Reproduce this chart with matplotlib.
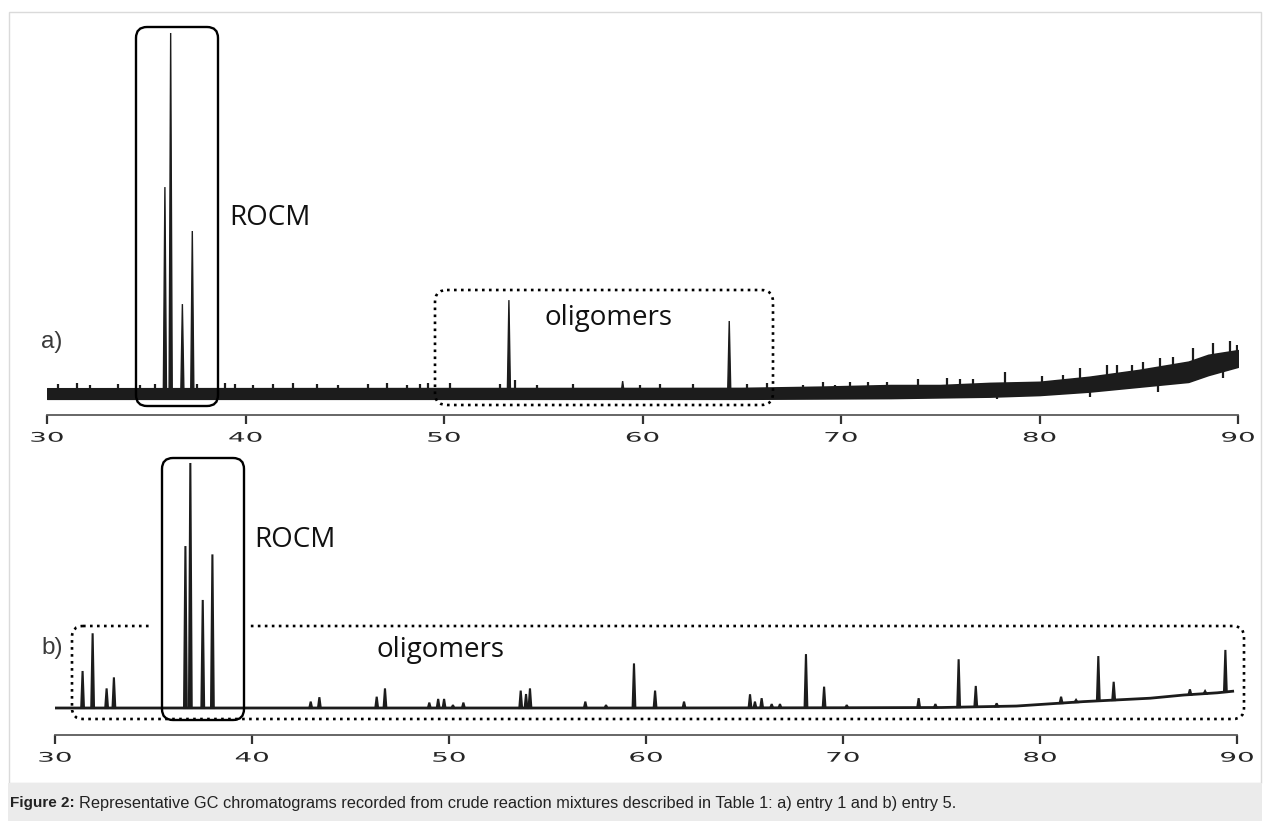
import numpy as np
import matplotlib
matplotlib.use('Agg')
import matplotlib.pyplot as plt
import matplotlib.transforms as mtransforms
import matplotlib.patheffects as pe
from matplotlib.patches import FancyBboxPatch, Rectangle

W, H = 1270, 821

# retention time axis
ticks = [30, 40, 50, 60, 70, 80, 90]

# a) entry 1 -- peaks (min, relative intensity)
a_peak_rt = [35.94, 36.23, 36.82, 37.32, 53.27, 59.00, 64.37]
a_peak_h = [57.2, 100.0, 24.7, 45.0, 25.8, 3.3, 20.0]
# noisy baseline envelope
a_env_rt = [30, 65, 69, 72.5, 75, 77.5, 80, 82.5, 85, 87.5, 88.5, 90]
a_env_lo = [-1.6, -1.6, -1.5, -1.4, -1.2, -1.0, -0.55, 0.4, 1.75, 3.1, 5.0, 7.3]
a_env_hi = [1.3, 1.4, 1.75, 2.2, 2.2, 2.8, 3.1, 4.5, 6.4, 8.7, 10.6, 11.9]
# noise spikes sticking out of the band
a_spike_rt = [30.57, 31.50, 32.17, 33.59, 34.69, 35.44, 37.54, 38.97, 39.47, 40.39,
              41.40, 42.41, 43.59, 44.68, 46.19, 47.11, 48.12, 48.79, 49.21, 50.30,
              52.82, 53.58, 54.67, 56.51, 59.87, 60.88, 62.56, 65.25, 66.26, 68.10,
              69.11, 69.70, 70.45, 71.38, 72.30, 73.89, 75.32, 76.00, 76.67, 78.26,
              80.11, 81.20, 82.04, 83.38, 83.90, 84.64, 85.20, 86.07, 86.74, 87.75,
              88.76, 89.60, 89.93]
a_spike_h = [2.5, 2.8, 2.2, 2.5, 2.2, 2.5, 2.5, 2.8, 2.5, 2.2,
             2.5, 2.8, 2.5, 2.2, 2.5, 2.8, 2.2, 2.5, 2.8, 2.8,
             2.5, 3.6, 2.2, 2.5, 2.2, 2.5, 2.5, 2.5, 2.8, 2.2,
             3.1, 2.2, 3.0, 3.1, 3.0, 3.9, 4.2, 3.9, 3.9, 5.8,
             4.7, 5.0, 6.9, 7.8, 7.8, 7.8, 8.6, 9.7, 10.0, 12.5,
             13.9, 14.4, 13.3]
a_dip_rt = [77.84, 82.54, 85.98, 89.26]
a_dip_h = [-1.7, -1.1, 0.3, 4.2]

# b) entry 5
b_base_rt = [30.0, 60.0, 70.0, 75.0, 78.8, 82.2, 85.6, 87.3, 89.0, 89.85]
b_base_y = [0.0, 0.0, 0.1, 0.2, 0.8, 2.6, 4.0, 5.3, 6.2, 6.9]
b_peak_rt = [31.40, 31.91, 32.62, 32.99, 36.62, 36.87, 37.50, 37.99, 42.98, 43.42,
             46.33, 46.75, 49.00, 49.45, 49.75, 50.20, 50.73, 53.64, 53.91, 54.11,
             56.92, 57.97, 59.39, 60.46, 61.93, 65.28, 65.53, 65.87, 66.38, 66.80,
             68.12, 69.04, 70.19, 73.84, 74.69, 75.87, 76.74, 77.80, 81.07, 81.83,
             82.96, 83.74, 87.61, 88.38, 89.41]
b_peak_h = [15.1, 30.5, 8.0, 12.5, 66.1, 100.0, 44.1, 62.7, 2.6, 4.4,
            4.6, 8.0, 2.2, 3.7, 3.7, 1.2, 2.2, 7.1, 5.7, 8.0,
            2.6, 1.2, 18.2, 7.1, 2.6, 5.6, 2.6, 4.0, 1.6, 1.6,
            22.0, 8.7, 1.2, 4.0, 1.6, 19.9, 9.0, 1.9, 4.6, 3.3,
            21.2, 10.7, 7.6, 6.9, 23.7]

INK = '#1c1c1c'


class Stretch(pe.AbstractPathEffect):
    """widen glyphs horizontally around their centre"""
    def __init__(self, sx=2.0):
        super().__init__()
        self.sx = sx

    def draw_path(self, renderer, gc, tpath, affine, rgbFace=None):
        ext = tpath.get_extents()
        cx = 0.5 * (ext.x0 + ext.x1)
        t = mtransforms.Affine2D().translate(-cx, 0).scale(self.sx, 1).translate(cx, 0) + affine
        renderer.draw_path(gc, tpath, t, rgbFace)


fig = plt.figure(figsize=(W / 100, H / 100), dpi=100)
fig.patch.set_facecolor('white')
# pixel coordinates measured from the top-left corner
pxT = mtransforms.Affine2D().scale(1 / W, -1 / H).translate(0, 1) + fig.transFigure


def make_axes(x0, x1, y_axis, y_top, ylim):
    ax = fig.add_axes([x0 / W, (H - y_axis) / H, (x1 - x0) / W, (y_axis - y_top) / H])
    ax.set_xlim(30, 90)
    ax.set_ylim(*ylim)
    for s in ['top', 'left', 'right']:
        ax.spines[s].set_visible(False)
    ax.spines['bottom'].set_color('#5a5a5a')
    ax.spines['bottom'].set_linewidth(1.3)
    ax.set_yticks([])
    ax.set_xticks(ticks, labels=[str(t) for t in ticks])
    ax.tick_params(axis='x', direction='out', length=6.5, width=1.6, color='#333333',
                   labelsize=9.5, labelcolor='#262626', pad=5.5)
    for lab in ax.get_xticklabels():
        lab.set_path_effects([Stretch(2.1)])
    ax.patch.set_alpha(0)
    return ax


def draw_peaks(ax, rts, hs, base_rt, base_y, w, lw):
    for rt, h in zip(rts, hs):
        b = np.interp(rt, base_rt, base_y)
        ax.fill([rt - w, rt, rt + w], [b, h, b], color=INK, lw=lw, zorder=3)


def rbox(ax, x0, y0, x1, y1, ls='-', lw=1.7, r=11, z=5):
    p = FancyBboxPatch((x0, y0), x1 - x0, y1 - y0,
                       boxstyle=f'round,pad=0,rounding_size={r}',
                       fc='none', ec='black', lw=lw, ls=ls,
                       transform=pxT, clip_on=False, zorder=z)
    ax.add_patch(p)


# ---------- a) ----------
ax_a = make_axes(47, 1238, 415, 20, (-22 / 3.6, 373 / 3.6))
ax_a.fill_between(a_env_rt, a_env_lo, a_env_hi, color=INK, lw=1.2, zorder=3)
mid_a = [(lo + hi) / 2 for lo, hi in zip(a_env_lo, a_env_hi)]
ax_a.vlines(a_spike_rt, np.interp(a_spike_rt, a_env_rt, mid_a), a_spike_h,
            color=INK, lw=1.6, zorder=3)
ax_a.vlines(a_dip_rt, a_dip_h, np.interp(a_dip_rt, a_env_rt, mid_a),
            color=INK, lw=1.6, zorder=3)
draw_peaks(ax_a, a_peak_rt, a_peak_h, a_env_rt, mid_a, 0.08, 1.0)

rbox(ax_a, 136, 27, 218, 406)
rbox(ax_a, 435, 290, 773, 405, ls=':', lw=1.9, r=12)

# ---------- b) ----------
ax_b = make_axes(55, 1237, 735, 440, (-27 / 2.45, 268 / 2.45))
ax_b.plot(b_base_rt, b_base_y, color=INK, lw=2.0, zorder=3, solid_capstyle='butt')
draw_peaks(ax_b, b_peak_rt, b_peak_h, b_base_rt, b_base_y, 0.07, 1.5)

rbox(ax_b, 72, 626, 1244, 719, ls=':', lw=1.9, r=11, z=1)
ax_b.add_patch(Rectangle((150, 621), 100, 10, fc='white', ec='none',
                         transform=pxT, clip_on=False, zorder=2))
rbox(ax_b, 162, 458, 244, 720)

# ---------- labels ----------
lab_font = dict(family='Open Sans', fontsize=20, color='#111111')
fig.text(229 / W, 1 - 225 / H, 'ROCM', va='baseline', ha='left', **lab_font)
fig.text(544 / W, 1 - 325 / H, 'oligomers', va='baseline', ha='left', **lab_font)
fig.text(254 / W, 1 - 547 / H, 'ROCM', va='baseline', ha='left', **lab_font)
fig.text(377 / W, 1 - 657 / H, 'oligomers', va='baseline', ha='left', **lab_font)

tag_font = dict(family='Liberation Sans', fontsize=17.5, color='#3a3a3a')
fig.text(41 / W, 1 - 348 / H, 'a)', va='baseline', ha='left', **tag_font)
fig.text(41 / W, 1 - 654 / H, 'b)', va='baseline', ha='left', **tag_font)

# frame and caption bar
fig.patches.append(Rectangle((9, 12), 1252, 771, fc='none', ec='#dadada', lw=1,
                             transform=pxT, figure=fig))
fig.patches.append(Rectangle((8, 783), 1254, 38, fc='#ebebeb', ec='none',
                             transform=pxT, figure=fig))

cap_y = 1 - 803 / H
t1 = fig.text(10 / W, cap_y, 'Figure 2:', family='Liberation Sans', fontsize=11,
              fontweight='bold', va='center', ha='left', color='#222222')
r = fig.canvas.get_renderer()
bb = t1.get_window_extent(r)
fig.text((bb.x1 + 4) / W, cap_y,
         'Representative GC chromatograms recorded from crude reaction mixtures '
         'described in Table 1: a) entry 1 and b) entry 5.',
         family='Liberation Sans', fontsize=11.8, va='center', ha='left', color='#222222')

fig.savefig('out.png', dpi=100)
